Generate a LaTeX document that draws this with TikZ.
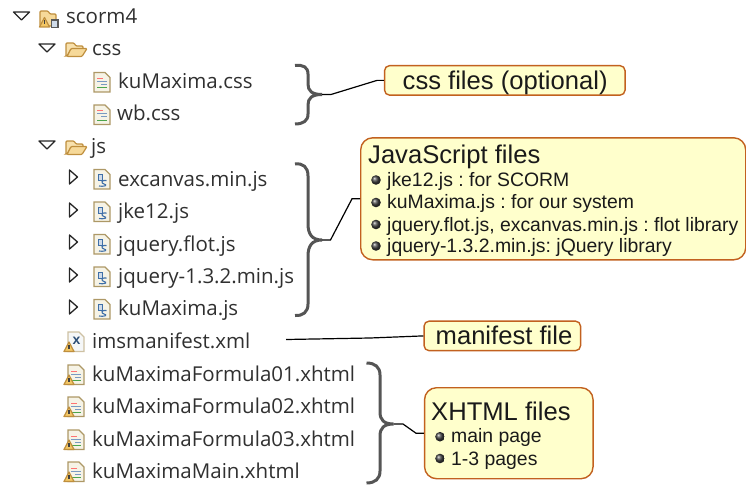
\documentclass[tikz,border=0pt]{standalone}
\usepackage{fontspec}
\setmainfont{Liberation Sans}
\newfontfamily\treefont{Open Sans}
\definecolor{treetext}{HTML}{303030}
\definecolor{boxfill}{HTML}{FFFFCC}
\definecolor{boxline}{HTML}{C2611F}
\definecolor{bracecol}{HTML}{555555}
\definecolor{calltext}{HTML}{1A1A1A}
\definecolor{tan1}{HTML}{AD9866}
\definecolor{paper}{HTML}{F6F3E6}
\definecolor{foldfill}{HTML}{F6D999}
\definecolor{foldline}{HTML}{BF8F3E}
\definecolor{jsblue}{HTML}{3F6FA8}
\definecolor{warnfill}{HTML}{F3C766}
\frenchspacing
\tikzset{
  x=1pt,y=-1pt,
  treelabel/.style={anchor=base west,inner sep=0pt,text=treetext,font=\treefont\fontsize{20.5}{23}\selectfont},
  callbox/.style={draw=boxline,fill=boxfill,line width=1.4pt,inner sep=0pt,anchor=center},
  smallbox/.style={callbox,rounded corners=5pt},
  bigbox/.style={callbox,rounded corners=12pt},
  calltitle/.style={anchor=base west,inner sep=0pt,text=calltext,font=\fontsize{25.6}{28}\selectfont},
  callitem/.style={anchor=base west,inner sep=0pt,text=calltext,font=\fontsize{19.4}{22}\selectfont},
  bracestyle/.style={draw=bracecol,line width=3pt},
  linkstyle/.style={draw=black,line width=1.2pt},
  twisty/.style={draw=black!85,fill=white,line width=1.3pt,line join=round}
}
\newcommand{\ballat}[2]{\shade[ball color=black!75] (#1,#2) circle[radius=4.8];}
\newcommand{\twistdown}[2]{\draw[twisty] (#1,#2) -- ++(16,0) -- ++(-8,8) -- cycle;}
\newcommand{\twistright}[2]{\draw[twisty] (#1,#2) -- ++(8,7) -- ++(-8,7) -- cycle;}
\newcommand{\openfolder}[2]{\begin{scope}[shift={(#1,#2)}]
  \draw[draw=foldline,fill=foldfill!80!white,line width=1.2pt,rounded corners=1pt] (0,14) -- (0,1) -- (8,1) -- (10,4) -- (17,4) -- (17,8) -- (5,8) -- (1,14) -- cycle;
  \draw[draw=foldline,fill=foldfill,line width=1.2pt,rounded corners=1pt] (1,14.5) -- (5,6.5) -- (21,6.5) -- (16,14.5) -- cycle;
\end{scope}}
\newcommand{\pagebase}[2]{\draw[draw=tan1,fill=paper,line width=1.4pt] (#1,#2) -- ++(11,0) -- ++(5,5) -- ++(0,14.5) -- ++(-16,0) -- cycle;}
\newcommand{\textlines}[2]{\begin{scope}[shift={(#1,#2)},line width=1pt]
  \draw[red!55] (3,6) -- (9,6);
  \draw[jsblue!70] (3,9) -- (13,9);
  \draw[jsblue!70] (7,12) -- (13,12);
  \draw[green!50!black!70] (3,15.5) -- (13,15.5);
\end{scope}}
\newcommand{\cssfile}[2]{\pagebase{#1}{#2}\textlines{#1}{#2}}
\newcommand{\jsfile}[2]{\pagebase{#1}{#2}\begin{scope}[shift={(#1,#2)}]
  \draw[draw=jsblue,fill=jsblue!25,line width=1pt] (4,5) rectangle (8,11);
  \draw[draw=jsblue,line width=1.1pt] (12.5,11) .. controls (7,10) and (7,14) .. (10,14.5) .. controls (13,15) and (13,17.5) .. (5,16.5);
\end{scope}}
\newcommand{\warnmark}[2]{\draw[draw=foldline,fill=warnfill,line width=1.2pt,line join=round] (#1,#2) -- ++(5,9.5) -- ++(-10,0) -- cycle;
  \fill[black!75] (#1-.6,#2+3) rectangle ++(1.2,3.6);}
\newcommand{\htmlfile}[2]{\pagebase{#1}{#2}\textlines{#1}{#2}\warnmark{#1+1}{#2+10}}
\newcommand{\xmlfile}[2]{\draw[draw=tan1!60,fill=paper!70!jsblue!15,line width=1.3pt] (#1,#2) -- ++(11,0) -- ++(5,5) -- ++(0,14.5) -- ++(-16,0) -- cycle;
  \node[name=xglyph,inner sep=0pt,text=jsblue!70!black,font=\bfseries\fontsize{14}{14}\selectfont] at (#1+8.5,#2+8.5) {x};
  \warnmark{#1+1}{#2+10}}
\begin{document}
\begin{tikzpicture}
\path[use as bounding box] (0,0) rectangle (746,484);

% twisties
\twistdown{13.5}{12}
\twistdown{39}{44}
\twistdown{39}{141}
\twistright{69.5}{170}
\twistright{69.5}{203}
\twistright{69.5}{235}
\twistright{69.5}{268}
\twistright{69.5}{300}

% project icon
\begin{scope}[shift={(40,10)}]
  \draw[draw=foldline,fill=foldfill,line width=1.2pt,rounded corners=1pt] (0,16) -- (0,1) -- (8,1) -- (10,4) -- (16,4) -- (16,16) -- cycle;
  \draw[draw=black!65,fill=jsblue!25,line width=1.4pt] (11.5,10) rectangle (18,17.5);
\end{scope}
\warnmark{44.5}{17.5}

% folders
\openfolder{66}{42}
\openfolder{66}{140}

% file icons
\cssfile{94}{72.5}
\cssfile{94}{105}
\jsfile{94}{169.5}
\jsfile{94}{202}
\jsfile{94}{234.5}
\jsfile{94}{267}
\jsfile{94}{299.5}
\xmlfile{68}{332}
\htmlfile{68}{365}
\htmlfile{68}{397}
\htmlfile{68}{430}
\htmlfile{68}{462}

% tree labels
\node[treelabel] (scorm) at (66,24) {scorm4};
\node[treelabel] (cssdir) at (92,56) {css};
\node[treelabel] (kucss) at (118,88.5) {kuMaxima.css};
\node[treelabel] (wbcss) at (117,121) {wb.css};
\node[treelabel] (jsdir) at (91,153) {js};
\node[treelabel] (excanvas) at (118,186) {excanvas.min.js};
\node[treelabel] (jke) at (118,218.5) {jke12.js};
\node[treelabel] (flot) at (118,251) {jquery.flot.js};
\node[treelabel] (jq) at (118,283) {jquery-1.3.2.min.js};
\node[treelabel] (kujs) at (118,315.5) {kuMaxima.js};
\node[treelabel] (ims) at (92,348) {imsmanifest.xml};
\node[treelabel] (f1) at (92,381) {kuMaximaFormula01.xhtml};
\node[treelabel] (f2) at (92,413) {kuMaximaFormula02.xhtml};
\node[treelabel] (f3) at (92,446) {kuMaximaFormula03.xhtml};
\node[treelabel] (fm) at (92,478) {kuMaximaMain.xhtml};

% boxes
\node[smallbox,minimum width=240.5pt,minimum height=29.5pt] (cssbox) at (504.8,80.4) {};
\node[bigbox,minimum width=385pt,minimum height=122pt] (jsbox) at (553.2,198.8) {};
\node[smallbox,minimum width=156.5pt,minimum height=29.5pt] (manbox) at (502.3,335.9) {};
\node[bigbox,minimum width=168.5pt,minimum height=91pt] (xbox) at (508.8,433.2) {};

% braces
\coordinate (csstip) at (322,94.5);
\coordinate (jstip) at (322,240);
\coordinate (xtip) at (393.5,424);
\draw[bracestyle] (295,65.5) .. controls (303,64.5) and (308,67) .. (308,74) -- (308,84) .. controls (308,91) and (312,94.5) .. (csstip) .. controls (312,94.5) and (308,98) .. (308,105) -- (308,114) .. controls (308,121) and (303,124) .. (295,124);
\draw[bracestyle] (295,164) .. controls (303,163) and (308,167) .. (308,176) -- (308,224) .. controls (308,234) and (312,240) .. (jstip) .. controls (312,240) and (308,246) .. (308,256) -- (308,304) .. controls (308,312) and (303,316) .. (295,315.5);
\draw[bracestyle] (366.5,363) .. controls (375,363) and (380,367) .. (380,375) -- (380,412) .. controls (380,420) and (384,424) .. (xtip) .. controls (384,424) and (380,428) .. (380,436) -- (380,471) .. controls (380,479) and (375,483) .. (366.5,483);

% connectors
\coordinate (mansrc) at (286,339.5);
\draw[linkstyle] (csstip) -- (331,94.5) -- (377,80.4) -- (cssbox.west);
\draw[linkstyle] (jstip) -- (330.5,240) -- (352,198.8) -- (jsbox.west);
\draw[linkstyle] (mansrc) -- (370,338) -- (manbox.west);
\draw[linkstyle] (xtip) -- (403,424) -- (416,433.2) -- (xbox.west);

% callout text
\node[calltitle] (csst) at (402.5,89.5) {css files (optional)};
\node[calltitle] (jst) at (368,163.5) {JavaScript files};
\node[callitem] (j1) at (387,186.5) {jke12.js : for SCORM};
\node[callitem] (j2) at (387,208.7) {kuMaxima.js : for our system};
\node[callitem] (j3) at (387,231) {jquery.flot.js, excanvas.min.js : flot library};
\node[callitem] (j4) at (387,252.7) {jquery-1.3.2.min.js: jQuery library};
\node[calltitle] (mant) at (435.5,344.5) {manifest file};
\node[calltitle] (xt) at (431,420) {XHTML files};
\node[callitem] (x1) at (451,442.7) {main page};
\node[callitem] (x2) at (451,465) {1-3 pages};
\ballat{376}{180}
\ballat{376}{202.5}
\ballat{376}{224.5}
\ballat{376}{246}
\ballat{440}{436.7}
\ballat{440}{458.5}
\end{tikzpicture}
\end{document}
